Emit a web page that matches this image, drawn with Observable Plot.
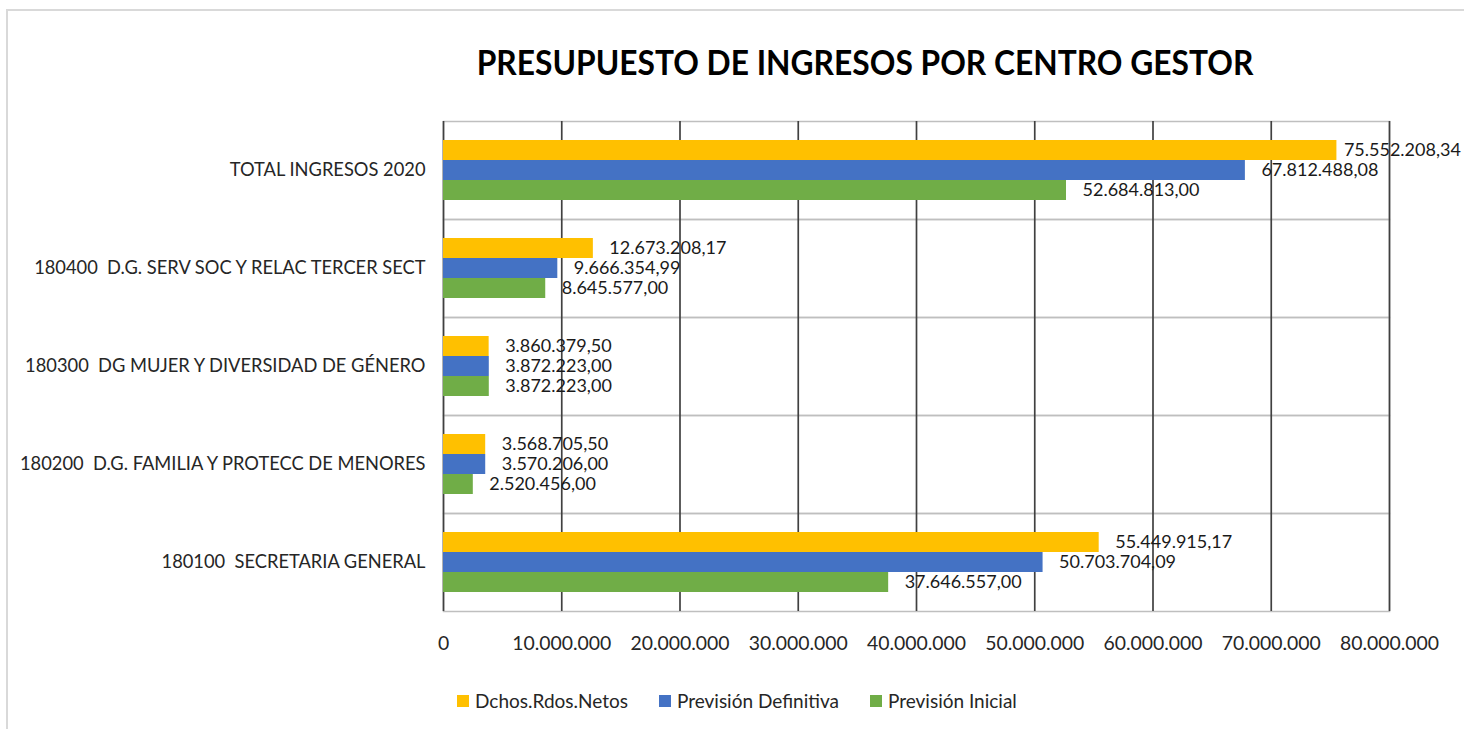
<!DOCTYPE html>
<html>
<head>
<meta charset="utf-8">
<script src="https://cdn.jsdelivr.net/npm/d3@7"></script>
<script src="https://cdn.jsdelivr.net/npm/@observablehq/plot@0.6"></script>
<style>
  html, body { margin:0; padding:0; background:#fff; }
  #wrap { position:relative; width:1464px; height:729px; overflow:hidden; font-family:Lato, sans-serif; }
  #border { position:absolute; left:6px; top:9px; width:1470px; height:740px; border:2px solid #d9d9d9; box-sizing:border-box; }
  #title { position:absolute; left:0; top:41px; width:1730px; text-align:center; font-weight:bold; font-size:34px; color:#000; white-space:nowrap; transform:scaleX(0.934); transform-origin:865px 0; }
  #chart { position:absolute; left:0; top:100px; }
  #legend { position:absolute; left:457px; top:690px; display:flex; font-size:19px; color:#262626; line-height:22px; }
  .item { display:flex; align-items:center; margin-right:31px; }
  .sw { width:12px; height:12px; margin-right:6px; }
  svg text { white-space:pre; }
  g[aria-label^="x-axis"] text { font-size:19.4px; }
  g[aria-label^="fy-axis"] text { font-size:18.3px; }
</style>
</head>
<body>
<div id="wrap">
  <div id="border"></div>
  <div id="title"></div>
  <div id="chart"></div>
  <div id="legend"></div>
</div>
<script>
const titleText = "PRESUPUESTO DE INGRESOS POR CENTRO GESTOR";
const categories = [
  "TOTAL INGRESOS 2020",
  "180400  D.G. SERV SOC Y RELAC TERCER SECT",
  "180300  DG MUJER Y DIVERSIDAD DE GÉNERO",
  "180200  D.G. FAMILIA Y PROTECC DE MENORES",
  "180100  SECRETARIA GENERAL"
];
const series = ["Dchos.Rdos.Netos", "Previsión Definitiva", "Previsión Inicial"];
const dchosRdosNetos     = [75552208.34, 12673208.17, 3860379.50, 3568705.50, 55449915.17];
const prevDefinitiva     = [67812488.08,  9666354.99, 3872223.00, 3570206.00, 50703704.09];
const prevInicial        = [52684813.00,  8645577.00, 3872223.00, 2520456.00, 37646557.00];
const xTicks = [0, 10000000, 20000000, 30000000, 40000000, 50000000, 60000000, 70000000, 80000000];
const colors = ["#FFC000", "#4472C4", "#70AD47"];

const values = [dchosRdosNetos, prevDefinitiva, prevInicial];
const data = [];
categories.forEach((c, i) => series.forEach((s, j) => data.push({cat: c, ser: s, val: values[j][i]})));

const loc = d3.formatLocale({decimal: ",", thousands: ".", grouping: [3], currency: ["", "€"]});
const fmtVal = loc.format(",.2f");
const fmtTick = loc.format(",.0f");

document.getElementById("title").textContent = titleText;

const chart = Plot.plot({
  width: 1464,
  height: 561,
  marginLeft: 443,
  marginRight: 75,
  marginTop: 20,
  marginBottom: 50,
  style: {fontFamily: "Lato, sans-serif", fontSize: "17px", color: "#262626", background: "transparent", overflow: "visible"},
  fy: {domain: categories, padding: 0, label: null, axis: "left", tickSize: 0, tickPadding: 18},
  y: {domain: series, paddingInner: 0, paddingOuter: 0.89, axis: null},
  x: {domain: [0, 80000000], ticks: xTicks, tickFormat: fmtTick, tickSize: 0, tickPadding: 25, label: null},
  color: {domain: series, range: colors},
  marks: [
    Plot.frame({stroke: "#bfbfbf", strokeWidth: 1.5}),
    Plot.ruleX(xTicks, {stroke: "#404040", strokeWidth: 1.7}),
    Plot.barX(data, {fy: "cat", y: "ser", x: "val", fill: "ser"}),
    Plot.text(data.filter(d => d.val < 70000000), {fy: "cat", y: "ser", x: "val", text: d => fmtVal(d.val), textAnchor: "start", dx: 16, fontSize: 18, fill: "#1a1a1a"}),
    Plot.text(data.filter(d => d.val >= 70000000), {fy: "cat", y: "ser", x: "val", text: d => fmtVal(d.val), textAnchor: "start", dx: 7, fontSize: 18, fill: "#1a1a1a"})
  ]
});
document.getElementById("chart").appendChild(chart);

const legend = document.getElementById("legend");
series.forEach((s, j) => {
  const it = document.createElement("div");
  it.className = "item";
  const sw = document.createElement("div");
  sw.className = "sw";
  sw.style.background = colors[j];
  const t = document.createElement("span");
  t.textContent = s;
  it.appendChild(sw); it.appendChild(t);
  legend.appendChild(it);
});
</script>
</body>
</html>
